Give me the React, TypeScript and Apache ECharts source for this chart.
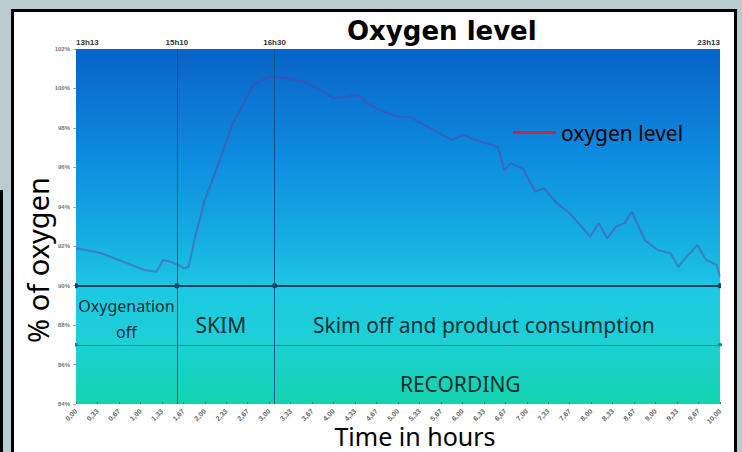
import React, { useEffect, useRef } from "react";
import * as echarts from "echarts";

// elapsed minutes since 13h13
const minutes = [0, 24, 44, 64, 75, 81, 89, 95, 101, 105, 111, 120, 134, 146, 158, 165, 173, 181, 197, 213, 228, 240, 252, 263, 271, 283, 299, 311, 322, 338, 350, 361, 377, 393, 399, 405, 416, 428, 436, 448, 460, 471, 479, 487, 495, 503, 511, 518, 530, 542, 554, 561, 569, 579, 587, 597, 600];
const oxygen = [91.9, 91.64, 91.21, 90.79, 90.7, 91.3, 91.2, 91.05, 90.88, 90.96, 92.48, 94.34, 96.37, 98.23, 99.41, 100.17, 100.43, 100.6, 100.5, 100.34, 99.92, 99.5, 99.58, 99.67, 99.25, 98.9, 98.57, 98.57, 98.23, 97.73, 97.39, 97.64, 97.3, 97.05, 95.86, 96.2, 95.95, 94.76, 94.94, 94.18, 93.67, 92.99, 92.48, 93.16, 92.4, 92.99, 93.16, 93.75, 92.31, 91.81, 91.64, 90.96, 91.47, 92.06, 91.3, 91.05, 90.45];

const eventTimes = [0, 94, 185, 600];
const eventLabels = ["13h13", "15h10", "16h30", "23h13"];

const phaseLevel = 90;
const phaseNames = ["Oxygenation\noff", "SKIM", "Skim off and product consumption"];
const phaseLabelX = [47, 135, 380];
const phaseLabelY = [88.3, 88.0, 88.0];
const phaseFontSizes = [16, 21, 21];

const recordingBounds = [0, 600];
const recordingLevel = 87;
const recordingName = "RECORDING";
const recordingLabelX = 358;
const recordingLabelY = 85.0;

const FONT = "Noto Sans";

export default function App() {
  const ref = useRef<HTMLDivElement>(null);
  useEffect(() => {
    if (!ref.current) return;
    const chart = echarts.init(ref.current, null, { renderer: "svg" });
    const phaseSegments = [];
    for (let i = 0; i < eventTimes.length - 1; i++) {
      phaseSegments.push({ coords: [[eventTimes[i], phaseLevel], [eventTimes[i + 1], phaseLevel]] });
    }
    const last = eventTimes.length - 1;
    chart.setOption({
      animation: false,
      backgroundColor: "transparent",
      title: {
        text: "Oxygen level",
        left: 342,
        top: 13,
        textStyle: { fontFamily: "DejaVu Sans", fontWeight: "bold", fontSize: 26, color: "#000" },
      },
      legend: {
        left: 508,
        top: 117,
        itemWidth: 43,
        itemHeight: 3,
        itemGap: 8,
        data: [{ name: "oxygen level", icon: "rect", itemStyle: { color: "#d81e3a", opacity: 1 } }],
        textStyle: { fontFamily: FONT, fontSize: 21, color: "#000" },
      },
      grid: {
        left: 76,
        right: 22,
        top: 49,
        bottom: 48,
        show: true,
        borderWidth: 0,
        backgroundColor: new echarts.graphic.LinearGradient(0, 0, 0, 1, [
          { offset: 0, color: "#0963c8" },
          { offset: 0.28, color: "#0d88de" },
          { offset: 0.55, color: "#16b0e2" },
          { offset: 0.68, color: "#1dc8e2" },
          { offset: 0.82, color: "#1dd0d6" },
          { offset: 1, color: "#14d3ae" },
        ]),
      },
      xAxis: {
        type: "value",
        min: 0,
        max: 600,
        interval: 20,
        splitLine: { show: false },
        axisLine: { show: false },
        axisTick: { show: true, inside: true, length: 2, lineStyle: { color: "#2a7f74" } },
        axisLabel: {
          rotate: 45,
          fontSize: 7,
          fontWeight: "bold",
          color: "#666",
          margin: 6,
          formatter: (v: number) => (v / 60).toFixed(2).replace(".", ","),
        },
      },
      yAxis: {
        type: "value",
        min: 84,
        max: 102,
        interval: 2,
        splitLine: { show: false },
        axisLine: { show: false },
        axisTick: { show: true, length: 3, lineStyle: { color: "#aaa" } },
        axisLabel: { fontSize: 6, fontWeight: "bold", color: "#777", margin: 6, formatter: (v: number) => `${v}%` },
      },
      graphic: [
        {
          type: "text",
          x: 37,
          y: 260,
          rotation: Math.PI / 2,
          style: { text: "% of oxygen", font: `29px '${FONT}'`, fill: "#000", textAlign: "center", textVerticalAlign: "middle" },
        },
        {
          type: "text",
          x: 415,
          y: 436,
          style: { text: "Time in hours", font: `25px '${FONT}'`, fill: "#000", textAlign: "center", textVerticalAlign: "middle" },
        },
      ],
      series: [
        {
          name: "oxygen level",
          type: "line",
          data: minutes.map((m, i) => [m, oxygen[i]]),
          showSymbol: false,
          color: "#d81e3a",
          lineStyle: { color: "#6a3a9a", width: 2, opacity: 0.45 },
          z: 3,
          markLine: {
            silent: true,
            symbol: "none",
            lineStyle: { color: "#15508f", width: 1, type: "solid" },
            label: { position: "end", fontSize: 8, fontWeight: "bold", color: "#333", distance: 3 },
            data: eventTimes.map((t, i) => ({
              xAxis: t,
              label: { formatter: eventLabels[i], align: i === 0 ? "left" : i === last ? "right" : "center" },
              lineStyle: i === 0 || i === last ? { color: "rgba(0,0,0,0)" } : {},
            })),
          },
        },
        {
          name: "phases",
          type: "lines",
          coordinateSystem: "cartesian2d",
          symbol: ["circle", "circle"],
          symbolSize: 5,
          lineStyle: { color: "#0b4460", width: 2, opacity: 1 },
          data: phaseSegments,
          z: 4,
        },
        {
          name: "recording",
          type: "lines",
          coordinateSystem: "cartesian2d",
          symbol: ["circle", "circle"],
          symbolSize: 4,
          lineStyle: { color: "#178a9a", width: 1.2, opacity: 1 },
          data: [{ coords: [[recordingBounds[0], recordingLevel], [recordingBounds[1], recordingLevel]] }],
          z: 4,
        },
        {
          name: "phaseText",
          type: "scatter",
          symbolSize: 0,
          silent: true,
          data: [
            ...phaseNames.map((n, i) => ({
              name: n,
              value: [phaseLabelX[i], phaseLabelY[i]],
              label: { fontSize: phaseFontSizes[i], lineHeight: Math.round(phaseFontSizes[i] * 1.6) },
            })),
            { name: recordingName, value: [recordingLabelX, recordingLabelY] },
          ],
          label: {
            show: true,
            position: "inside",
            formatter: "{b}",
            fontFamily: FONT,
            color: "#000",
            fontSize: 21,
          },
          z: 5,
        },
      ],
    });
    return () => chart.dispose();
  }, []);
  return (
    <div style={{ position: "fixed", left: 0, top: 0, width: 742, height: 452, background: "#b8ccd0", overflow: "hidden" }}>
      <div style={{ position: "absolute", left: 0, top: 190, width: 3, height: 262, background: "#000" }} />
      <div style={{ position: "absolute", left: 11, top: 9, width: 726, height: 470, boxSizing: "border-box", border: "3px solid #000", background: "#fff" }} />
      <div ref={ref} style={{ position: "absolute", left: 0, top: 0, width: 742, height: 452 }} />
    </div>
  );
}
